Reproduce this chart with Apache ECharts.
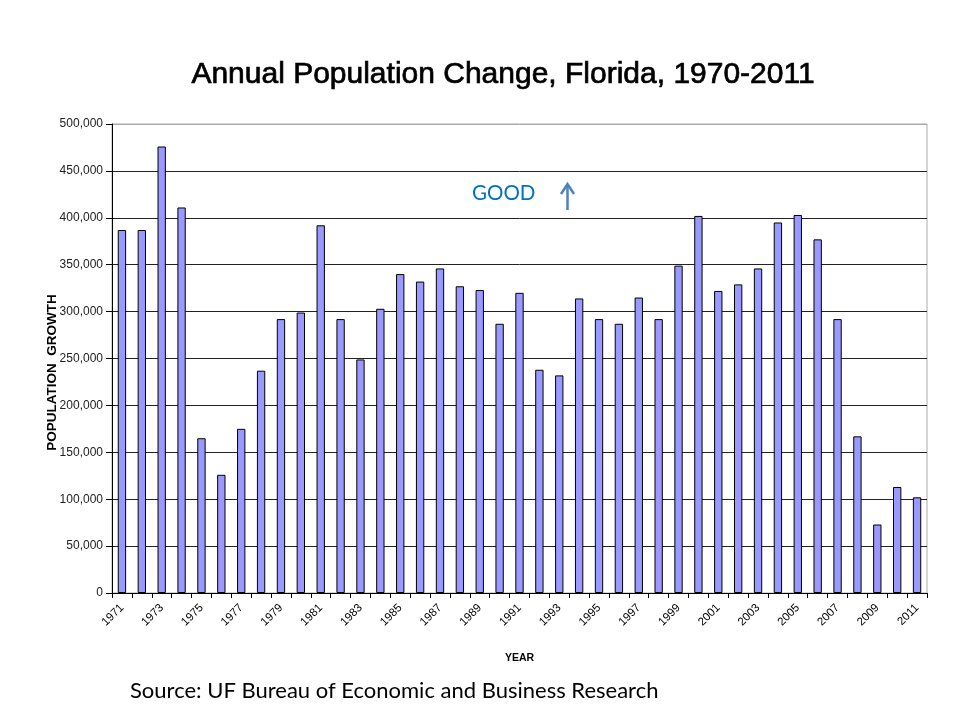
<!DOCTYPE html>
<html><head><meta charset="utf-8">
<script src="https://cdn.jsdelivr.net/npm/echarts@6/dist/echarts.min.js"></script>
<style>html,body{margin:0;padding:0;background:#fff}#c{width:960px;height:720px}</style>
</head><body><div id="c"></div>
<script>
const years = ['1971','1972','1973','1974','1975','1976','1977','1978','1979','1980','1981','1982','1983','1984','1985','1986','1987','1988','1989','1990','1991','1992','1993','1994','1995','1996','1997','1998','1999','2000','2001','2002','2003','2004','2005','2006','2007','2008','2009','2010','2011'];
const growth = [387000,387000,476000,411000,165000,126000,175000,237000,292000,299000,392000,292000,249000,303000,340000,332000,346000,327000,323000,287000,320000,238000,232000,314000,292000,287000,315000,292000,349000,402000,322000,329000,346000,395000,403000,377000,292000,167000,73000,113000,102000];
const titleText = 'Annual Population Change, Florida, 1970-2011';
const yName = 'POPULATION  GROWTH';
const xName = 'YEAR';
const noteText = 'GOOD';
const sourceText = 'Source: UF Bureau of Economic and Business Research';

const chart = echarts.init(document.getElementById('c'));
const splitColors = ['#222','#222','#222','#222','#222','#222','#222','#222','#222','#222','#aaa'];
chart.setOption({
  animation: false,
  backgroundColor: '#fff',
  title: {
    text: titleText, left: 498, top: 55, textAlign: 'center',
    textStyle: { fontFamily: 'Liberation Sans', fontSize: 30, fontWeight: 'normal', color: '#000',
      textBorderColor: '#000', textBorderWidth: 0.7 }
  },
  grid: { left: 112, right: 33, top: 124, bottom: 127, show: true, borderColor: '#aaa', borderWidth: 1 },
  xAxis: {
    type: 'category', data: years,
    name: xName, nameLocation: 'middle', nameGap: 60, nameMoveOverlap: false,
    nameTextStyle: { fontFamily: 'Liberation Sans', fontSize: 10.5, fontWeight: 'bold', color: '#000' },
    axisLine: { lineStyle: { color: '#000', width: 1 } },
    axisTick: { show: true, length: 5, interval: 0, lineStyle: { color: '#000' } },
    axisLabel: { interval: 1, rotate: 45, margin: 13, fontFamily: 'Liberation Sans', fontSize: 11.5, color: '#000' }
  },
  yAxis: {
    type: 'value', min: 0, max: 500000, interval: 50000,
    name: yName, nameLocation: 'middle', nameGap: 53, nameRotate: 90, nameMoveOverlap: false,
    nameTextStyle: { fontFamily: 'Liberation Sans', fontSize: 13.5, fontWeight: 'bold', color: '#000',
      padding: [0, 28, 0, 0] },
    axisLine: { show: true, lineStyle: { color: '#000', width: 1 } },
    axisTick: { show: true, length: 6, lineStyle: { color: '#000' } },
    axisLabel: { margin: 9, fontFamily: 'Liberation Sans', fontSize: 12, color: '#222',
      formatter: v => v.toLocaleString('en-US') },
    splitLine: { show: true, lineStyle: { color: splitColors, width: 1 } }
  },
  series: [{
    type: 'bar', data: growth, barWidth: '42%',
    itemStyle: { color: '#9999FF', borderColor: '#000', borderWidth: 1 }
  }],
  graphic: [
    { type: 'text', left: 472, top: 183, style: { text: noteText, fontFamily: 'Lato', fontSize: 20.5, fill: '#0070C0' } },
    { type: 'line', shape: { x1: 567.5, y1: 210, x2: 567.5, y2: 185 }, style: { stroke: '#4F81BD', lineWidth: 2.5 } },
    { type: 'polyline', shape: { points: [[561, 194], [567.5, 184], [574, 194]] }, style: { fill: 'none', stroke: '#4F81BD', lineWidth: 2.5 } },
    { type: 'text', left: 130, top: 680, style: { text: sourceText, fontFamily: 'Lato', fontSize: 22, fill: '#000' } }
  ]
});
</script></body></html>
